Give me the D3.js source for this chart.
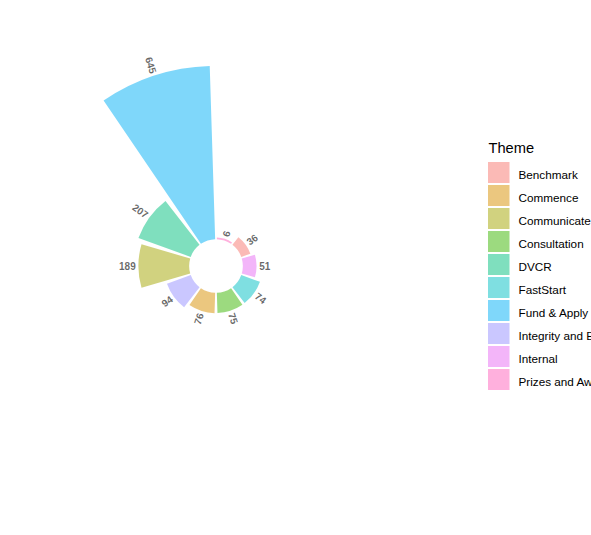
<!DOCTYPE html>
<html>
<head>
<meta charset="utf-8">
<script src="https://cdn.jsdelivr.net/npm/d3@7"></script>
<style>
  html, body { margin: 0; padding: 0; background: #fff; }
  svg { display: block; font-family: "Liberation Sans", Arial, sans-serif; }
</style>
</head>
<body>
<svg id="chart" width="591" height="535"></svg>
<script>
// Legend themes (alphabetical, fixes colour order)
const themes = ["Benchmark", "Commence", "Communicate", "Consultation", "DVCR",
                "FastStart", "Fund & Apply", "Integrity and Ethics", "Internal", "Prizes and Awards"];
const themeColors = ["#F8766D", "#D89000", "#A3A500", "#39B600", "#00BF7D",
                     "#00BFC4", "#00B0F6", "#9590FF", "#E76BF3", "#FF62BC"];
// Bars in clockwise order from the top
const barThemes = ["Prizes and Awards", "Benchmark", "Internal", "FastStart", "Consultation",
                   "Commence", "Integrity and Ethics", "Communicate", "DVCR", "Fund & Apply"];
const barValues = [6, 36, 51, 74, 75, 76, 94, 189, 207, 645];

const svg = d3.select("#chart");
const cx = 216, cy = 266;
const n = barValues.length;

const color = d3.scaleOrdinal().domain(themes).range(themeColors);
const rScale = d3.scaleLinear().domain([-100, 645]).range([0, 200]);
const aScale = d3.scaleLinear().domain([0.5, n + 0.5]).range([0, 2 * Math.PI]);

const g = svg.append("g").attr("transform", `translate(${cx},${cy})`);

const arc = d3.arc()
  .innerRadius(rScale(0))
  .outerRadius(d => rScale(d.value))
  .startAngle(d => aScale(d.id - 0.45))
  .endAngle(d => aScale(d.id + 0.45));

const data = barValues.map((v, i) => ({ id: i + 1, value: v, theme: barThemes[i] }));

g.selectAll("path.bar").data(data).enter().append("path")
  .attr("class", "bar")
  .attr("d", arc)
  .attr("fill", d => color(d.theme))
  .attr("fill-opacity", 0.5);

// labels
g.selectAll("text.lab").data(data).enter().append("text")
  .attr("class", "lab")
  .each(function(d) {
    const th = aScale(d.id);
    const deg = th * 180 / Math.PI;
    const r = rScale(d.value + 10);
    const x = r * Math.sin(th), y = -r * Math.cos(th);
    const flip = deg > 180;
    d3.select(this)
      .attr("transform", `translate(${x},${y}) rotate(${flip ? deg - 270 : deg - 90})`)
      .attr("text-anchor", flip ? "end" : "start");
  })
  .attr("dominant-baseline", "central")
  .attr("font-size", "10px")
  .attr("font-weight", "bold")
  .attr("fill", "#000")
  .attr("fill-opacity", 0.6)
  .text(d => d.value);

// legend
const lg = svg.append("g").attr("transform", "translate(488,0)");
lg.append("text").attr("x", 0.5).attr("y", 153).attr("font-size", "14.67px").attr("fill", "#000").text("Theme");
const items = lg.selectAll("g.item").data(themes).enter().append("g")
  .attr("class", "item")
  .attr("transform", (d, i) => `translate(0,${162 + i * 23})`);
items.append("rect").attr("x", 0).attr("y", 0).attr("width", 21.5).attr("height", 21)
  .attr("fill", d => color(d)).attr("fill-opacity", 0.5);
items.append("text").attr("x", 30.5).attr("y", 12).attr("dominant-baseline", "central")
  .attr("font-size", "11.73px").attr("fill", "#000").text(d => d);
</script>
</body>
</html>
